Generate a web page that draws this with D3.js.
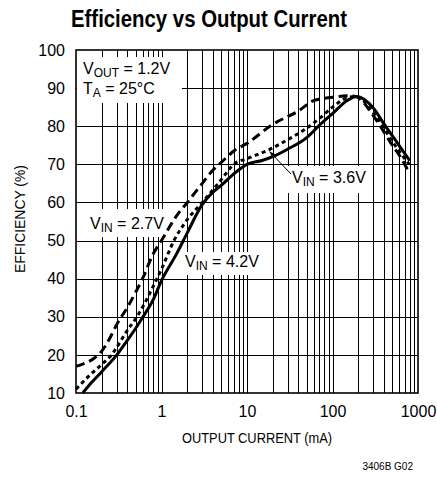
<!DOCTYPE html>
<html><head><meta charset="utf-8">
<script src="https://cdn.jsdelivr.net/npm/d3@7"></script>
<style>
body{margin:0;background:#fff;}
svg text{font-family:"Liberation Sans Narrow","Arial Narrow","Liberation Sans",Arial,sans-serif;fill:#000;}
</style></head>
<body><svg id="c" width="437" height="479"></svg>
<script>
// ---- data ----
const xTickValues = [0.1, 1, 10, 100, 1000];
const xTickLabels = ["0.1", "1", "10", "100", "1000"];
const yTickValues = [10, 20, 30, 40, 50, 60, 70, 80, 90, 100];

const vin27Current = [0.1, 0.12, 0.16, 0.2, 0.25, 0.3, 0.4, 0.5, 0.6, 0.8, 1, 1.5, 2, 3, 4, 5, 7, 10, 20, 40, 60, 100, 150, 190, 300, 400, 500, 600, 780];
const vin27Eff     = [17, 17.6, 19, 21, 24.5, 28, 32.5, 36.5, 40, 46.5, 50, 56.5, 60, 65, 68.5, 70.5, 73.5, 75.5, 80.5, 84, 86.7, 87.6, 88, 87.7, 82.8, 78.5, 75, 72.5, 68];

const vin36Current = [0.1, 0.15, 0.2, 0.26, 0.3, 0.4, 0.5, 0.6, 0.8, 1, 1.4, 2, 3, 5, 7, 10, 18, 30, 50, 70, 100, 150, 190, 300, 400, 500, 600, 790];
const vin36Eff     = [11, 15, 17.5, 20, 22, 26.5, 29.5, 32.5, 38, 42.5, 50, 55.5, 60, 66, 70, 71.5, 73.8, 76.5, 79.5, 82, 85, 87.5, 87.8, 83.5, 79.5, 76, 73.5, 70];

const vin42Current = [0.12, 0.15, 0.2, 0.3, 0.4, 0.5, 0.6, 0.8, 1, 1.5, 2, 3, 4, 5, 7, 10, 15, 20, 30, 50, 70, 100, 150, 190, 300, 400, 600, 800];
const vin42Eff     = [10, 12.6, 15.6, 20, 23.9, 27, 29.8, 34.5, 39.5, 46.5, 52, 59.5, 62.7, 64.5, 67.5, 70, 71, 72, 74, 77, 80.2, 83.3, 86.8, 87.8, 84.8, 80.6, 75, 71];

const seriesNames = ["VIN = 2.7V", "VIN = 3.6V", "VIN = 4.2V"];

// ---- chart ----
const svg = d3.select("#c");
const L = 76, R = 418, T = 50, B = 393;
const x = d3.scaleLog().domain([0.1, 1000]).range([L, R]);
const y = d3.scaleLinear().domain([10, 100]).range([B, T]);

// title
svg.append("text").attr("x", 209).attr("y", 27).attr("text-anchor", "middle")
  .attr("font-size", 23).attr("font-weight", "bold")
  .attr("textLength", 276).attr("lengthAdjust", "spacingAndGlyphs")
  .text("Efficiency vs Output Current");

// grid
const gridG = svg.append("g");
const minor = [];
for (let d = 0.1; d < 1000; d *= 10) for (let k = 1; k <= 9; k++) { const v = +(d * k).toPrecision(3); if (v > 0.1 && v < 1000) minor.push(v); }
gridG.selectAll("line.v").data(minor).join("line")
  .attr("x1", d => Math.round(x(d)) + 0.5).attr("x2", d => Math.round(x(d)) + 0.5)
  .attr("y1", T).attr("y2", B).attr("stroke", "#000").attr("stroke-width", 1);
gridG.selectAll("line.h").data(yTickValues.filter(v => v > 10 && v < 100)).join("line")
  .attr("y1", d => Math.round(y(d)) + 0.5).attr("y2", d => Math.round(y(d)) + 0.5)
  .attr("x1", L).attr("x2", R).attr("stroke", "#000").attr("stroke-width", 1);

// white label boxes over grid
const boxes = [
  [77, 57, 182, 103],
  [79, 209, 166, 237],
  [181, 252, 262, 275],
  [287, 166, 371, 193]
];
svg.append("g").selectAll("rect").data(boxes).join("rect")
  .attr("x", d => d[0]).attr("y", d => d[1]).attr("width", d => d[2] - d[0]).attr("height", d => d[3] - d[1])
  .attr("fill", "#fff");

// frame
svg.append("rect").attr("x", L).attr("y", T).attr("width", R - L).attr("height", B - T)
  .attr("fill", "none").attr("stroke", "#000").attr("stroke-width", 1.6);

// curves
const line = d3.line().x(d => x(d[0])).y(d => y(d[1])).curve(d3.curveMonotoneX);
const series = [
  {c: vin27Current, e: vin27Eff, dash: "9,5"},
  {c: vin36Current, e: vin36Eff, dash: "4,3.5"},
  {c: vin42Current, e: vin42Eff, dash: null}
];
svg.append("g").selectAll("path").data(series).join("path")
  .attr("d", s => line(s.c.map((c, i) => [c, s.e[i]])))
  .attr("fill", "none").attr("stroke", "#000").attr("stroke-width", 3)
  .attr("stroke-dasharray", s => s.dash);

// axes tick labels
const xAxis = d3.axisBottom(x).tickValues(xTickValues).tickFormat((d, i) => xTickLabels[i]).tickSize(0).tickPadding(13);
const gx = svg.append("g").attr("transform", `translate(0,${B})`).call(xAxis);
gx.select(".domain").remove();
gx.selectAll("text").attr("font-size", 16).attr("font-family", null);
const yAxis = d3.axisLeft(y).tickValues(yTickValues).tickSize(0).tickPadding(11);
const gy = svg.append("g").attr("transform", `translate(${L},0)`).call(yAxis);
gy.select(".domain").remove();
gy.selectAll("text").attr("font-size", 16).attr("font-family", null);

// axis titles
svg.append("text").attr("x", 257).attr("y", 443).attr("text-anchor", "middle").attr("font-size", 15)
  .attr("textLength", 150).attr("lengthAdjust", "spacingAndGlyphs").text("OUTPUT CURRENT (mA)");
svg.append("text").attr("transform", "translate(25,219) rotate(-90)").attr("text-anchor", "middle").attr("font-size", 15)
  .attr("textLength", 108).attr("lengthAdjust", "spacingAndGlyphs").text("EFFICIENCY (%)");
svg.append("text").attr("x", 413).attr("y", 470).attr("text-anchor", "end").attr("font-size", 10).text("3406B G02");

// labels with subscripts
function subLabel(px, py, main, sub, rest) {
  const t = svg.append("text").attr("x", px).attr("y", py).attr("font-size", 16);
  t.append("tspan").text(main);
  t.append("tspan").attr("dy", 3).attr("font-size", 12).text(sub);
  t.append("tspan").attr("dy", -3).text(rest);
  return t;
}
subLabel(83, 74, "V", "OUT", " =  1.2V");
subLabel(83, 94, "T", "A", " = 25°C");
subLabel(90, 229, "V", seriesNames[0].slice(1, 3), seriesNames[0].slice(3));
subLabel(185, 267, "V", seriesNames[2].slice(1, 3), seriesNames[2].slice(3));
subLabel(292, 183, "V", seriesNames[1].slice(1, 3), seriesNames[1].slice(3));

// arrow to 3.6V curve
svg.append("defs").append("marker").attr("id", "ah").attr("viewBox", "0 0 10 10").attr("refX", 9).attr("refY", 5)
  .attr("markerWidth", 7).attr("markerHeight", 7).attr("orient", "auto")
  .append("path").attr("d", "M0,1.5 L10,5 L0,8.5 Z").attr("fill", "#000");
svg.append("line").attr("x1", 291).attr("y1", 174).attr("x2", x(18.5)).attr("y2", y(73.8) + 2)
  .attr("stroke", "#000").attr("stroke-width", 1).attr("marker-end", "url(#ah)");
</script></body></html>
